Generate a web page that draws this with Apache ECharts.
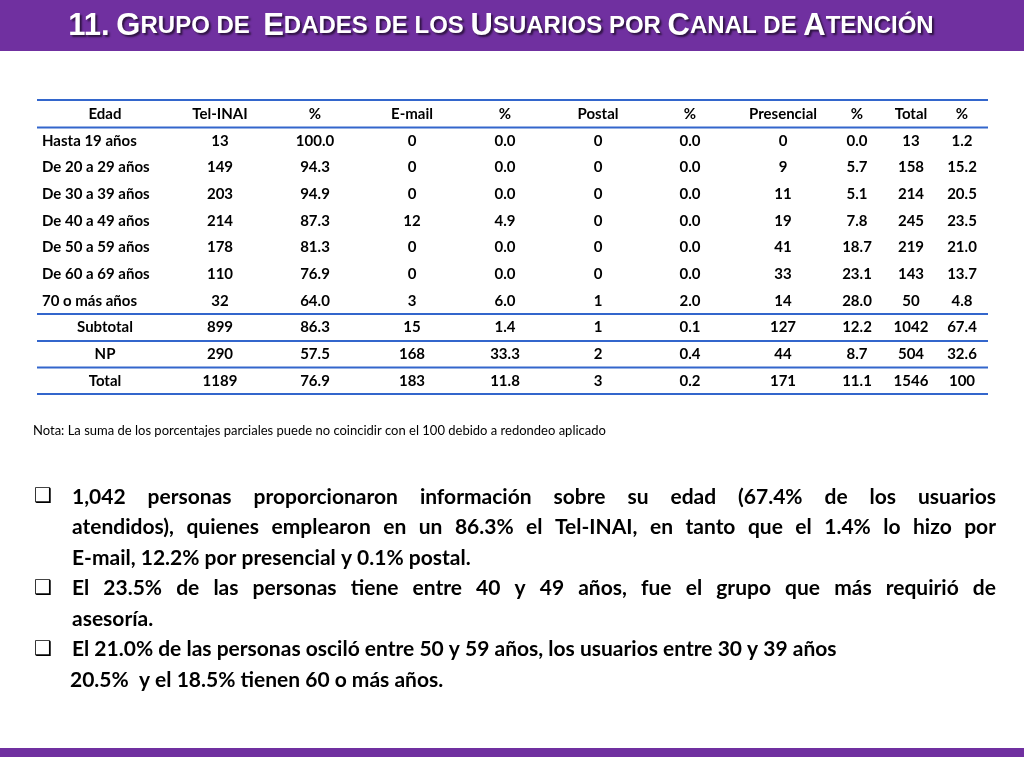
<!DOCTYPE html>
<html><head><meta charset="utf-8">
<script src="https://cdn.jsdelivr.net/npm/echarts@6/dist/echarts.min.js"></script>
<style>html,body{margin:0;padding:0;background:#fff}#c{width:1024px;height:768px}</style>
</head><body><div id="c"></div>
<script>
const headers = ['Edad','Tel-INAI','%','E-mail','%','Postal','%','Presencial','%','Total','%'];
const rowLabels = ['Hasta 19 años','De 20 a 29 años','De 30 a 39 años','De 40 a 49 años','De 50 a 59 años','De 60 a 69 años','70 o más años','Subtotal','NP','Total'];
const telInai = ['13','149','203','214','178','110','32','899','290','1189'];
const telPct = ['100.0','94.3','94.9','87.3','81.3','76.9','64.0','86.3','57.5','76.9'];
const email = ['0','0','0','12','0','0','3','15','168','183'];
const emailPct = ['0.0','0.0','0.0','4.9','0.0','0.0','6.0','1.4','33.3','11.8'];
const postal = ['0','0','0','0','0','0','1','1','2','3'];
const postalPct = ['0.0','0.0','0.0','0.0','0.0','0.0','2.0','0.1','0.4','0.2'];
const presencial = ['0','9','11','19','41','33','14','127','44','171'];
const presPct = ['0.0','5.7','5.1','7.8','18.7','23.1','28.0','12.2','8.7','11.1'];
const total = ['13','158','214','245','219','143','50','1042','504','1546'];
const totalPct = ['1.2','15.2','20.5','23.5','21.0','13.7','4.8','67.4','32.6','100'];
const note = 'Nota: La suma de los porcentajes parciales puede no coincidir con el 100 debido a redondeo aplicado';
const bullets = [
 {box:true, lines:['1,042 personas proporcionaron información sobre su edad (67.4% de los usuarios','atendidos), quienes emplearon en un 86.3% el Tel-INAI, en tanto que el 1.4% lo hizo por','E-mail, 12.2% por presencial y 0.1% postal.']},
 {box:true, lines:['El 23.5% de las personas tiene entre 40 y 49 años, fue el grupo que más requirió de','asesoría.']},
 {box:true, lines:['El 21.0% de las personas osciló entre 50 y 59 años, los usuarios entre 30 y 39 años']},
 {box:false, lines:['20.5%  y el 18.5% tienen 60 o más años.']}
];
const titleWords = ['11.','Grupo','de','','Edades','de','los','Usuarios','por','Canal','de','Atención'];

const cols = [telInai,telPct,email,emailPct,postal,postalPct,presencial,presPct,total,totalPct];
const colX = [105,220,315,412,505,598,690,783,857,911,962];
const F = 'Lato, "Open Sans", sans-serif';
const g = [];
g.push({type:'rect',shape:{x:0,y:0,width:1024,height:51},style:{fill:'#7030A0'}});
g.push({type:'rect',shape:{x:0,y:748,width:1024,height:9},style:{fill:'#7030A0'}});
let parts=[];
titleWords.forEach((w,i)=>{
  if(i>0) parts.push('{s| }');
  if(!w) return;
  if(/^\d/.test(w)){parts.push('{b|'+w+'}');return;}
  const first=w[0], rest=w.slice(1);
  if(first===first.toUpperCase()) parts.push('{b|'+first+'}'+(rest?'{s|'+rest.toUpperCase()+'}':''));
  else parts.push('{s|'+w.toUpperCase()+'}');
});
const sh={textShadowColor:'rgba(0,0,0,0.6)',textShadowOffsetX:2,textShadowOffsetY:2,textShadowBlur:2};
g.push({type:'text',x:501,y:26,style:{text:parts.join(''),align:'center',verticalAlign:'middle',
  rich:{b:Object.assign({fontSize:31,fontWeight:'bold',fill:'#fff',fontFamily:'Liberation Sans'},sh),
        s:Object.assign({fontSize:24,fontWeight:'bold',fill:'#fff',fontFamily:'Liberation Sans'},sh)}}});
const rowY = i=>114+i*26.7;
const line=(y)=>g.push({type:'line',shape:{x1:37,y1:y,x2:988,y2:y},style:{stroke:'#3366CC',lineWidth:2}});
[100,127.5,314,341,367.5,394].forEach(line);
const TF='bold 15px '+F;
headers.forEach((h,j)=>g.push({type:'text',x:colX[j],y:rowY(0),style:{text:h,align:'center',verticalAlign:'middle',font:TF,fill:'#000'}}));
rowLabels.forEach((r,i)=>{
  const y=rowY(i+1);
  if(i<7) g.push({type:'text',x:42,y,style:{text:r,align:'left',verticalAlign:'middle',font:TF,fill:'#000'}});
  else g.push({type:'text',x:105,y,style:{text:r,align:'center',verticalAlign:'middle',font:TF,fill:'#000'}});
  cols.forEach((c,j)=>g.push({type:'text',x:colX[j+1],y,style:{text:c[i],align:'center',verticalAlign:'middle',font:TF,fill:'#000'}}));
});
g.push({type:'text',x:33,y:431,style:{text:note,align:'left',verticalAlign:'middle',font:'13px '+F,fill:'#000'}});
const BF='bold 21px '+F;
const ctx=document.createElement('canvas').getContext('2d');ctx.font=BF;
let ly=497;
bullets.forEach(b=>{
  if(b.box) g.push({type:'text',x:43,y:ly,style:{text:'❑',align:'center',verticalAlign:'middle',font:'20px "DejaVu Sans"',fill:'#000'}});
  b.lines.forEach((t,k)=>{
    const x0=b.box?72:70;
    const justify = k<b.lines.length-1;
    if(justify){
      const words=t.split(' ');
      const ws=words.map(w=>ctx.measureText(w).width);
      const tot=ws.reduce((a,c)=>a+c,0);
      const gap=(996-x0-tot)/(words.length-1);
      let x=x0;
      words.forEach((w,i)=>{g.push({type:'text',x,y:ly,style:{text:w,align:'left',verticalAlign:'middle',font:BF,fill:'#000'}});x+=ws[i]+gap;});
    } else {
      g.push({type:'text',x:x0,y:ly,style:{text:t,align:'left',verticalAlign:'middle',font:BF,fill:'#000'}});
    }
    ly+=30.5;
  });
});
const chart=echarts.init(document.getElementById('c'));
chart.setOption({animation:false,graphic:g});
</script></body></html>
